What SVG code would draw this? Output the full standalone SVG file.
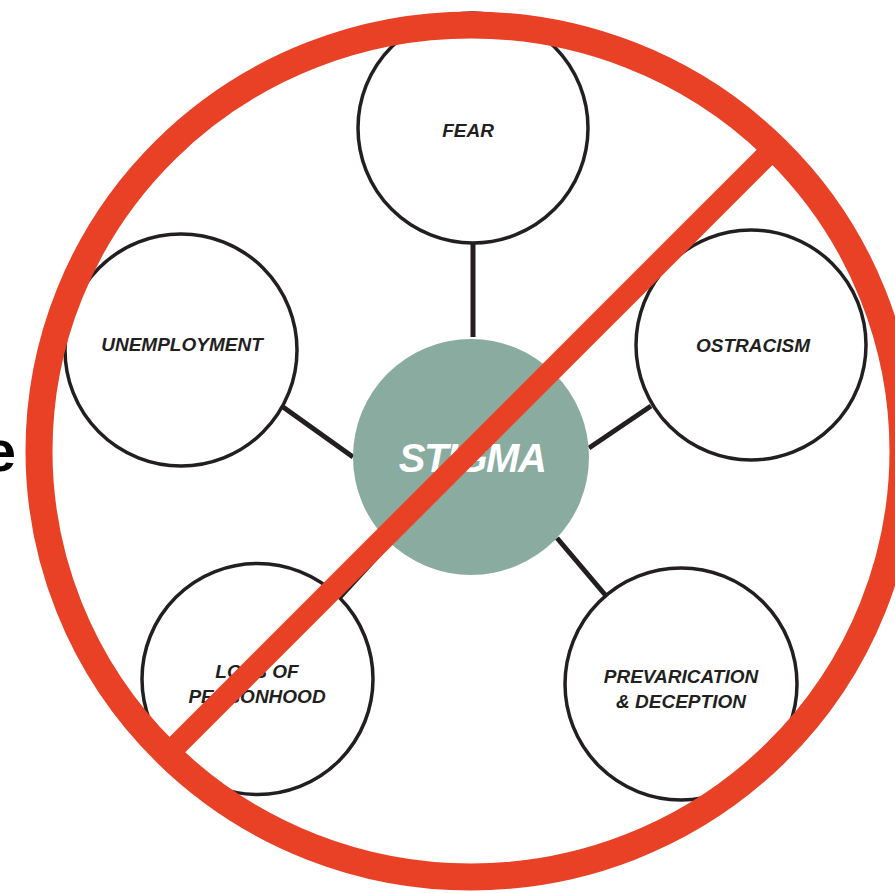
<svg xmlns="http://www.w3.org/2000/svg" width="895" height="893" viewBox="0 0 895 893">
  <style>
    .node { fill: #ffffff; stroke: #231f20; stroke-width: 3.5; }
    .hub { fill: #8aab9f; stroke: none; }
    .link { stroke: #231f20; stroke-width: 5; fill: none; }
    .label { font-family: "Liberation Sans", Arial, sans-serif; font-weight: bold; font-style: italic; font-size: 19px; fill: #231f20; text-anchor: middle; }
    .hubtext { font-family: "Liberation Sans", Arial, sans-serif; font-weight: bold; font-style: italic; font-size: 40px; fill: #ffffff; text-anchor: middle; letter-spacing: -1.5px; }
    .no { stroke: #e84126; fill: none; }
  </style>
  <rect width="895" height="893" fill="#ffffff"/>

  <!-- clipped heading text at the left edge -->
  <text x="16" y="471" font-family="Liberation Sans, Arial, sans-serif" font-weight="bold" font-size="58" fill="#000000" text-anchor="end">e</text>

  <!-- spokes from the hub -->
  <g id="connectors">
    <line class="link" x1="473" y1="243" x2="473" y2="337"/>
    <line class="link" x1="283" y1="407" x2="353" y2="457"/>
    <line class="link" x1="651" y1="406" x2="589" y2="448"/>
    <line class="link" x1="340" y1="597" x2="386" y2="547"/>
    <line class="link" x1="557" y1="538" x2="607" y2="597"/>
  </g>

  <g id="fear">
    <circle class="node" cx="473" cy="128" r="115"/>
    <text class="label" x="468" y="137">FEAR</text>
  </g>
  <g id="unemployment">
    <circle class="node" cx="181" cy="350" r="116"/>
    <text class="label" x="182" y="351">UNEMPLOYMENT</text>
  </g>
  <g id="ostracism">
    <circle class="node" cx="751" cy="345" r="115"/>
    <text class="label" x="753" y="352">OSTRACISM</text>
  </g>
  <g id="loss-of-personhood">
    <circle class="node" cx="257.5" cy="679" r="115.5"/>
    <text class="label" x="257" y="678">LOSS OF</text>
    <text class="label" x="257" y="703">PERSONHOOD</text>
  </g>
  <g id="prevarication">
    <circle class="node" cx="681" cy="684" r="116"/>
    <text class="label" x="681" y="683">PREVARICATION</text>
    <text class="label" x="681" y="708">&amp; DECEPTION</text>
  </g>
  <g id="stigma">
    <circle class="hub" cx="471" cy="457" r="118"/>
    <text class="hubtext" x="472" y="472">STIGMA</text>
  </g>

  <!-- prohibition sign over everything -->
  <g id="prohibition">
    <line class="no" x1="168" y1="754" x2="774" y2="148" stroke-width="22"/>
    <ellipse class="no" cx="471" cy="451" rx="432" ry="426" stroke-width="27"/>
  </g>
</svg>
